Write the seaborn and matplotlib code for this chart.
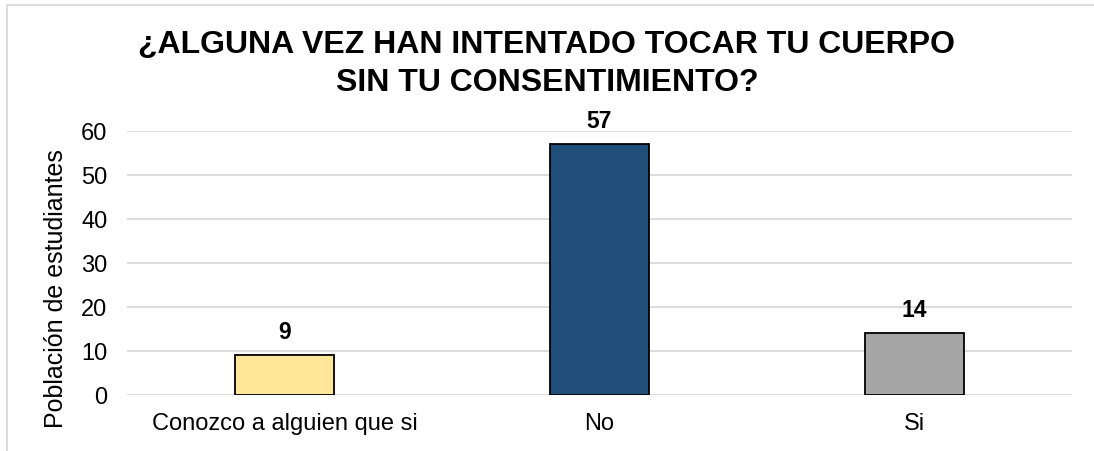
import matplotlib
matplotlib.use("Agg")
import matplotlib.pyplot as plt
import seaborn as sns
import pandas as pd

categories = ["Conozco a alguien que si", "No", "Si"]
values = [9, 57, 14]
colors = ["#FFE699", "#1F4E79", "#A6A6A6"]
yticks = [0, 10, 20, 30, 40, 50, 60]
title_lines = ["¿ALGUNA VEZ HAN INTENTADO TOCAR TU CUERPO", "SIN TU CONSENTIMIENTO?"]

sns.set_theme(style="white")
plt.rcParams['font.family'] = ['Liberation Sans', 'DejaVu Sans']
plt.rcParams['text.color'] = 'black'

df = pd.DataFrame({"cat": categories, "val": values})

W, H = 1094, 451
fig = plt.figure(figsize=(W / 100, H / 100), dpi=100)
ax = fig.add_axes([127 / W, 1 - 395 / H, (1072 - 127) / W, (395 - 131) / H])

sns.barplot(data=df, x="cat", y="val", hue="cat", palette=colors, legend=False,
            saturation=1, width=0.314, edgecolor="black", linewidth=1.3, ax=ax, zorder=3)

ax.set_ylim(0, 60)
ax.set_xlim(-0.5, 2.5)
ax.set_yticks(yticks)
ax.yaxis.grid(True, color="#d9d9d9", linewidth=1.3, zorder=0)
ax.set_axisbelow(True)
for s in ax.spines.values():
    s.set_visible(False)
ax.tick_params(axis="both", length=0, labelsize=17, colors="black")
ax.tick_params(axis="x", pad=13)
ax.tick_params(axis="y", pad=14)
ax.set_xlabel("")
ax.set_ylabel("Población de estudiantes", fontsize=18, color="black")
ax.yaxis.set_label_coords(-0.062, 0.405)

for i, v in enumerate(values):
    ax.text(i, v + 3.7, str(v), ha="center", va="baseline", fontsize=16.5,
            fontweight="bold", color="black")

fig.text(0.5, 1 - 53 / H, title_lines[0], ha="center", va="baseline",
         fontsize=23, fontweight="bold", color="black")
fig.text(0.5, 1 - 91 / H, title_lines[1], ha="center", va="baseline",
         fontsize=23, fontweight="bold", color="black")

# chart border
fig.add_artist(plt.Line2D([7 / W, 7 / W], [0, 1 - 5 / H], color="#d9d9d9", lw=1.3,
                          transform=fig.transFigure))
fig.add_artist(plt.Line2D([7 / W, 1], [1 - 5 / H, 1 - 5 / H], color="#d9d9d9", lw=1.3,
                          transform=fig.transFigure))

fig.savefig("out.png", dpi=100)
